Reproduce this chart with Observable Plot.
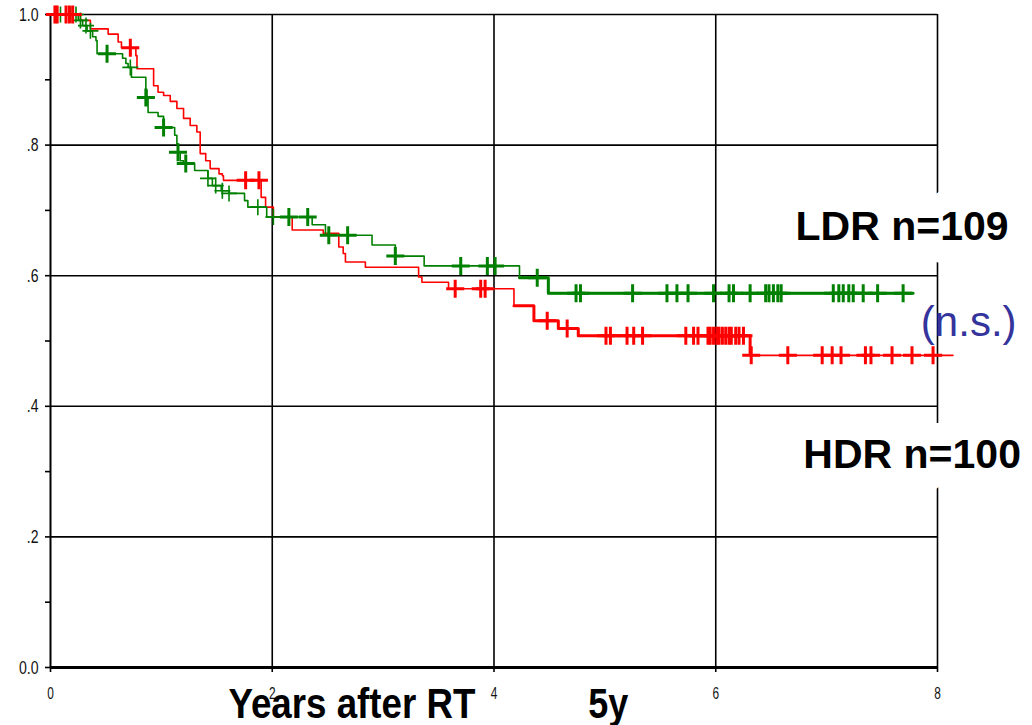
<!DOCTYPE html>
<html>
<head>
<meta charset="utf-8">
<script src="https://cdn.jsdelivr.net/npm/d3@7"></script>
<script src="https://cdn.jsdelivr.net/npm/@observablehq/plot@0.6"></script>
<style>
  html, body { margin: 0; padding: 0; background: #fff; }
  #chart svg { display: block; }
</style>
</head>
<body>
<div id="chart"></div>
<script>
// ---- Data ----
const xTicks = [0, 2, 4, 6, 8];
const yTicks = [0, 0.2, 0.4, 0.6, 0.8, 1.0];
const yTickLabels = ["0.0", ".2", ".4", ".6", ".8", "1.0"];
const yMinorTicks = [0.1, 0.3, 0.5, 0.7, 0.9];

// HDR (red) Kaplan-Meier steps
const hdrTime = [0, 0.27, 0.36, 0.52, 0.61, 0.64, 0.77, 0.78, 0.93, 0.97,
  1.02, 1.08, 1.14, 1.20, 1.26, 1.32, 1.35, 1.40, 1.44, 1.52,
  1.55, 1.56, 1.90, 1.94, 2.01, 2.18, 2.46, 2.60, 2.64, 2.66,
  2.84, 3.32, 3.35, 3.59, 4.18, 4.36, 4.58, 4.76, 6.31, 8.14];
const hdrSurv = [1.000, 0.991, 0.978, 0.970, 0.958, 0.949, 0.937, 0.917, 0.891, 0.881,
  0.876, 0.867, 0.856, 0.841, 0.830, 0.820, 0.787, 0.776, 0.764, 0.756,
  0.753, 0.746, 0.720, 0.705, 0.690, 0.670, 0.665, 0.644, 0.634, 0.621,
  0.613, 0.598, 0.590, 0.580, 0.554, 0.531, 0.519, 0.508, 0.478, 0.478];
const hdrCensor = [0.04, 0.06, 0.14, 0.17, 0.20, 0.72, 1.76, 1.88, 3.65, 3.88, 3.92,
  4.48, 4.66, 5.01, 5.05, 5.20, 5.26, 5.34, 5.73, 5.80, 5.84, 5.93, 5.95, 5.98,
  6.01, 6.03, 6.06, 6.09, 6.12, 6.14, 6.18, 6.21, 6.25, 6.32, 6.65, 6.96, 7.05,
  7.13, 7.35, 7.40, 7.59, 7.77, 7.96];

// LDR (green) Kaplan-Meier steps
const ldrTime = [0, 0.25, 0.29, 0.33, 0.38, 0.41, 0.42, 0.65, 0.68, 0.70,
  0.73, 0.86, 0.88, 0.97, 1.02, 1.12, 1.14, 1.15, 1.17, 1.20,
  1.30, 1.42, 1.46, 1.54, 1.61, 1.75, 1.78, 1.95, 2.36, 2.48,
  2.90, 3.11, 3.37, 4.23, 4.49, 7.78];
const ldrSurv = [1.000, 0.991, 0.983, 0.975, 0.966, 0.960, 0.940, 0.933, 0.925, 0.919,
  0.904, 0.873, 0.850, 0.844, 0.827, 0.815, 0.802, 0.789, 0.776, 0.772,
  0.761, 0.749, 0.738, 0.730, 0.726, 0.715, 0.705, 0.690, 0.678, 0.662,
  0.647, 0.630, 0.615, 0.597, 0.573, 0.573];
const ldrCensorThin = [0.05, 0.09, 0.14, 0.18, 0.23, 0.27, 0.32, 0.36, 0.72, 0.87,
  1.42, 1.49, 1.55, 1.61, 1.87, 2.01];
const ldrCensor = [0.51, 0.86, 1.02, 1.15, 1.22, 2.15, 2.32, 2.51, 2.68, 3.11,
  3.70, 3.94, 4.01, 4.39, 4.74, 4.78, 5.25, 5.56, 5.65, 5.75, 5.98, 6.12, 6.16,
  6.31, 6.45, 6.48, 6.52, 6.56, 6.59, 7.06, 7.11, 7.15, 7.20, 7.24, 7.33, 7.46, 7.69];

const labels = ["LDR n=109", "HDR n=100", "(n.s.)"];
const xLabel = "Years after RT";
const xNote = "5y";

// ---- Helpers ----
const steps = (t, s) => t.map((d, i) => ({t: d, s: s[i]}));
const within = (rows, a, b) => rows.filter(d => d.t >= a && d.t <= b);
const survAt = (t, s, x) => { let v = s[0]; for (let i = 0; i < t.length; i++) if (t[i] <= x) v = s[i]; return v; };
const cens = (c, t, s) => c.map(x => ({t: x, s: survAt(t, s, x)}));
const plusSymbol = {
  draw(ctx, size) {
    const r = Math.sqrt(size / Math.PI);
    ctx.moveTo(-r, 0); ctx.lineTo(r, 0);
    ctx.moveTo(0, -r); ctx.lineTo(0, r);
  }
};

const RED = "#ff0000", GREEN = "#008000", BLUE = "#34349c";
const sans = "'Liberation Sans', Arial, Helvetica, sans-serif";
const hdrSteps = steps(hdrTime, hdrSurv);
const ldrSteps = steps(ldrTime, ldrSurv);

const chart = Plot.plot({
  width: 1032,
  height: 725,
  marginLeft: 50,
  marginRight: 95,
  marginTop: 14,
  marginBottom: 58,
  style: {fontFamily: sans, background: "white", overflow: "visible"},
  x: {domain: [0, 8]},
  y: {domain: [0, 1]},
  marks: [
    // grid
    Plot.ruleY(yTicks.filter(d => d > 0), {stroke: "black", strokeWidth: 1.6}),
    Plot.ruleX(xTicks.filter(d => d > 0), {stroke: "black", strokeWidth: 1.6}),
    // axes (ticks only; labels drawn as text marks below)
    Plot.axisY(yTicks, {tickSize: 5, text: null, stroke: "black", strokeWidth: 1.6, label: null}),
    Plot.axisY(yMinorTicks, {tickSize: 5, text: null, stroke: "black", strokeWidth: 1.6, label: null}),
    Plot.axisX(xTicks, {tickSize: 5, text: null, stroke: "black", strokeWidth: 1.6, label: null}),
    Plot.text(yTicks, {x: 0, y: d => d, text: (d, i) => yTickLabels[i], dx: -12, textAnchor: "end",
      lineAnchor: "middle", fontSize: 19, fontFamily: sans, fill: "#111", className: "ytl"}),
    Plot.text(xTicks, {x: d => d, y: 0, text: d => String(d), dy: 26, lineAnchor: "middle",
      fontSize: 17, fontFamily: sans, fill: "#111", className: "xtl"}),
    Plot.ruleX([0], {stroke: "black", strokeWidth: 2}),
    Plot.ruleY([0], {stroke: "black", strokeWidth: 3}),
    // curves
    Plot.line(hdrSteps, {x: "t", y: "s", curve: "step-after", stroke: RED, strokeWidth: 1.6}),
    Plot.line(within(hdrSteps, 4.18, 6.31), {x: "t", y: "s", curve: "step-after", stroke: RED, strokeWidth: 3}),
    Plot.line(ldrSteps, {x: "t", y: "s", curve: "step-after", stroke: GREEN, strokeWidth: 1.6}),
    Plot.line(within(ldrSteps, 4.23, 7.78), {x: "t", y: "s", curve: "step-after", stroke: GREEN, strokeWidth: 3}),
    // censor marks
    Plot.dot(cens(ldrCensorThin, ldrTime, ldrSurv), {x: "t", y: "s", symbol: plusSymbol, r: 8, stroke: GREEN, strokeWidth: 1.6, fill: "none"}),
    Plot.dot(cens(ldrCensor, ldrTime, ldrSurv), {x: "t", y: "s", symbol: plusSymbol, r: 9, stroke: GREEN, strokeWidth: 3, fill: "none"}),
    Plot.dot(cens(hdrCensor, hdrTime, hdrSurv), {x: "t", y: "s", symbol: plusSymbol, r: 9, stroke: RED, strokeWidth: 3, fill: "none"}),
    // group labels (white halo hides frame where the labels sit)
    Plot.text([labels[0]], {x: 6.72, y: 0.655, text: d => d, textAnchor: "start", lineAnchor: "bottom",
      fontSize: 41, fontWeight: "bold", fontFamily: sans, fill: "black", stroke: "white", strokeWidth: 46}),
    Plot.text([labels[1]], {x: 6.79, y: 0.306, text: d => d, textAnchor: "start", lineAnchor: "bottom",
      fontSize: 41, fontWeight: "bold", fontFamily: sans, fill: "black", stroke: "white", strokeWidth: 46}),
    Plot.text([labels[2]], {x: 7.85, y: 0.508, text: d => d, textAnchor: "start", lineAnchor: "bottom",
      fontSize: 42, fontFamily: sans, fill: BLUE}),
    // x axis title
    Plot.text([xLabel], {x: 1.605, y: 0, dy: 50, text: d => d, textAnchor: "start", lineAnchor: "bottom",
      fontSize: 42, fontWeight: "bold", fontFamily: sans, fill: "black"}),
    Plot.text([xNote], {x: 4.85, y: 0, dy: 50, text: d => d, textAnchor: "start", lineAnchor: "bottom",
      fontSize: 42, fontWeight: "bold", fontFamily: sans, fill: "black"})
  ]
});
document.getElementById("chart").appendChild(chart);

// condense texts horizontally like the narrow face used in the reference
const condense = (el, k) => {
  el.setAttribute("textLength", (el.getComputedTextLength() * k).toFixed(1));
  el.setAttribute("lengthAdjust", "spacingAndGlyphs");
};
chart.querySelectorAll(".ytl text").forEach(el => condense(el, 0.74));
chart.querySelectorAll(".xtl text").forEach(el => condense(el, 0.7));
chart.querySelectorAll("text").forEach(el => {
  const t = el.textContent;
  if (t === xLabel) { el.setAttribute("textLength", 247); el.setAttribute("lengthAdjust", "spacingAndGlyphs"); }
  if (t === xNote) { el.setAttribute("textLength", 40); el.setAttribute("lengthAdjust", "spacingAndGlyphs"); }
});
</script>
</body>
</html>
